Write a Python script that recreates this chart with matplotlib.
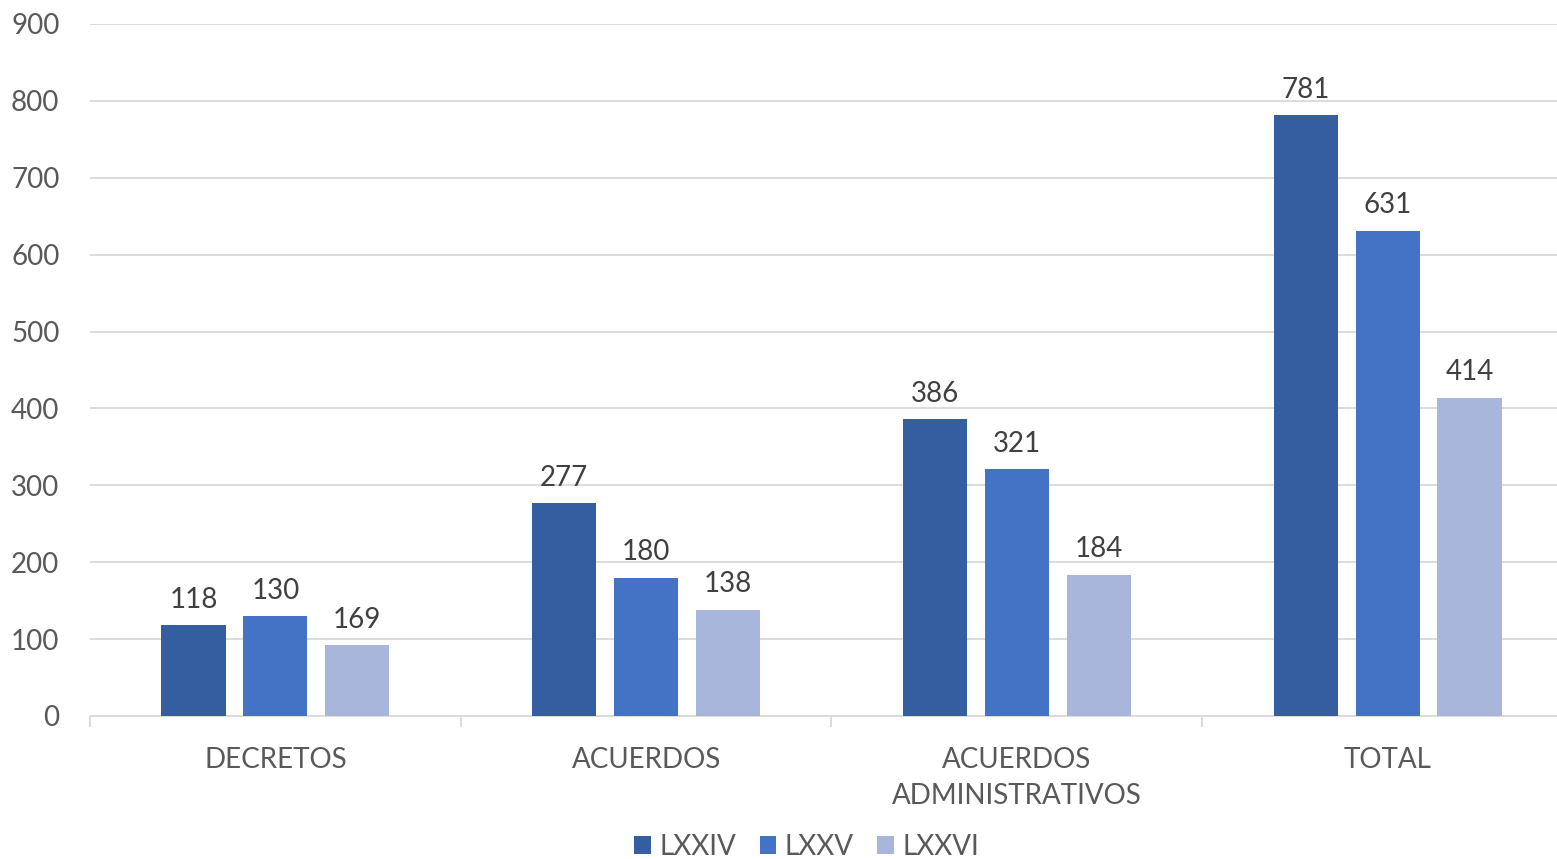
import numpy as np
import matplotlib.pyplot as plt

# categories and series (bar heights as drawn, labels as printed)
categories = ["DECRETOS", "ACUERDOS", "ACUERDOS\nADMINISTRATIVOS", "TOTAL"]
series_names = ["LXXIV", "LXXV", "LXXVI"]
heights = {
    "LXXIV": [118, 277, 386, 781],
    "LXXV": [130, 180, 321, 631],
    "LXXVI": [92, 138, 184, 414],
}
labels = {
    "LXXIV": [118, 277, 386, 781],
    "LXXV": [130, 180, 321, 631],
    "LXXVI": [169, 138, 184, 414],
}
colors = ["#355EA0", "#4472C4", "#A9B6DB"]

plt.rcParams['font.family'] = ['Lato', 'DejaVu Sans']

fig = plt.figure(figsize=(15.57, 8.59), dpi=100)
ax = fig.add_axes([90 / 1557, 143 / 859, 1 - 90 / 1557, 692 / 859])

x = np.arange(len(categories))
width = 0.173
step = 0.221

for i, name in enumerate(series_names):
    pos = x + (i - 1) * step
    bars = ax.bar(pos, heights[name], width, color=colors[i], label=name, zorder=3)
    for b, lab in zip(bars, labels[name]):
        ax.annotate(str(lab), (b.get_x() + b.get_width() / 2, b.get_height()),
                    xytext=(0, 9), textcoords="offset points",
                    ha="center", va="bottom", fontsize=20, color="#404040")

ax.set_ylim(0, 900)
ax.set_yticks(range(0, 901, 100))
ax.set_xlim(-0.5, 3.457)
ax.grid(axis="y", color="#D9D9D9", linewidth=1.3, zorder=0)
ax.set_axisbelow(True)

ax.set_xticks(x)
ax.set_xticklabels(categories, linespacing=1.5)
ax.set_xticks([-0.5, 0.5, 1.5, 2.5], minor=True)
ax.tick_params(axis="x", which="major", length=0, pad=22, labelsize=20, labelcolor="#595959")
ax.tick_params(axis="x", which="minor", length=8, width=1.3, color="#D9D9D9")
ax.tick_params(axis="y", length=0, pad=22, labelsize=20, labelcolor="#595959")

for s in ["top", "right", "left"]:
    ax.spines[s].set_visible(False)
ax.spines["bottom"].set_color("#D9D9D9")
ax.spines["bottom"].set_linewidth(1.3)

fig.legend(loc="lower center", bbox_to_anchor=(0.518, -0.03), ncol=3, frameon=False,
           fontsize=20, handlelength=0.6, handleheight=0.6, handletextpad=0.3,
           columnspacing=0.85, labelcolor="#595959")

fig.savefig("out.png", dpi=100)
